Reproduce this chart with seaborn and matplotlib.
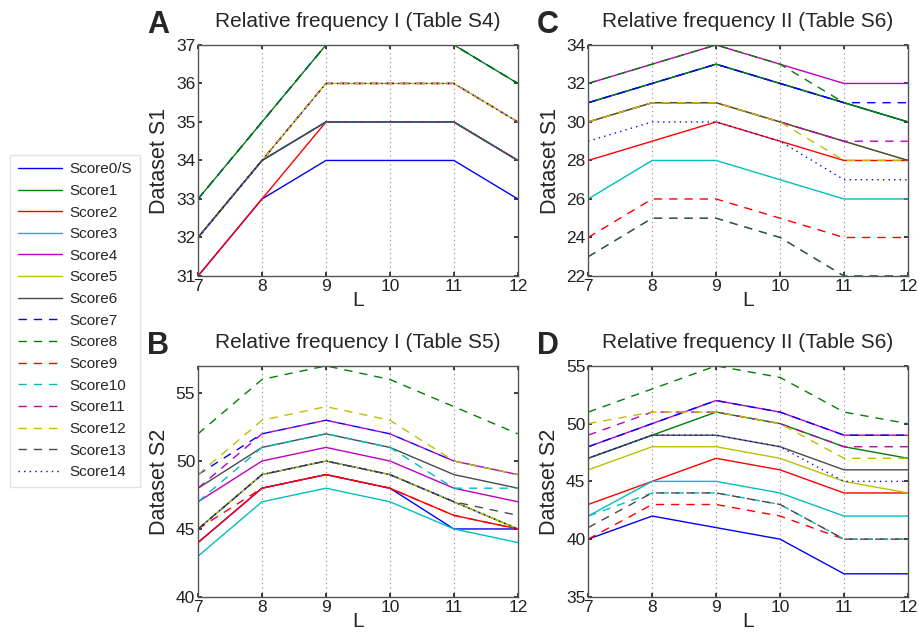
import pandas as pd
import seaborn as sns
import matplotlib
matplotlib.use("Agg")
import matplotlib.pyplot as plt

# x values (word length L)
L = [7, 8, 9, 10, 11, 12]

score_names = ["Score0/S", "Score1", "Score2", "Score3", "Score4", "Score5", "Score6",
               "Score7", "Score8", "Score9", "Score10", "Score11", "Score12", "Score13", "Score14"]

# Panel A: Relative frequency I (Table S4), Dataset S1
panel_a = [
    [31, 33, 34, 34, 34, 33],
    [33, 35, 37, 37, 37, 36],
    [31, 33, 35, 35, 35, 34],
    [32, 34, 35, 35, 35, 34],
    [32, 34, 35, 35, 35, 34],
    [32, 34, 36, 36, 36, 35],
    [32, 34, 35, 35, 35, 34],
    [33, 35, 37, 37, 37, 36],
    [33, 35, 37, 37, 37, 36],
    [32, 34, 36, 36, 36, 35],
    [32, 34, 35, 35, 35, 34],
    [32, 34, 36, 36, 36, 35],
    [32, 34, 36, 36, 36, 35],
    [32, 34, 35, 35, 35, 34],
    [32, 34, 36, 36, 36, 35],
]

# Panel C: Relative frequency II (Table S6), Dataset S1
panel_c = [
    [31, 32, 33, 32, 31, 30],
    [31, 32, 33, 32, 31, 30],
    [28, 29, 30, 29, 28, 28],
    [26, 28, 28, 27, 26, 26],
    [32, 33, 34, 33, 32, 32],
    [30, 31, 31, 30, 29, 28],
    [30, 31, 31, 30, 29, 28],
    [31, 32, 33, 32, 31, 31],
    [32, 33, 34, 33, 31, 30],
    [24, 26, 26, 25, 24, 24],
    [23, 25, 25, 24, 22, 22],
    [30, 31, 31, 30, 29, 29],
    [30, 31, 31, 30, 28, 28],
    [23, 25, 25, 24, 22, 22],
    [29, 30, 30, 29, 27, 27],
]

# Panel B: Relative frequency I (Table S5), Dataset S2
panel_b = [
    [44, 48, 49, 48, 45, 45],
    [45, 49, 50, 49, 47, 45],
    [44, 48, 49, 48, 46, 45],
    [43, 47, 48, 47, 45, 44],
    [47, 50, 51, 50, 48, 47],
    [45, 49, 50, 49, 47, 45],
    [48, 51, 52, 51, 49, 48],
    [49, 52, 53, 52, 50, 49],
    [52, 56, 57, 56, 54, 52],
    [45, 48, 49, 48, 46, 45],
    [47, 51, 52, 51, 48, 48],
    [48, 52, 53, 52, 50, 49],
    [49, 53, 54, 53, 50, 49],
    [45, 49, 50, 49, 47, 46],
    [45, 49, 50, 49, 47, 45],
]

# Panel D: Relative frequency II (Table S6), Dataset S2
panel_d = [
    [40, 42, 41, 40, 37, 37],
    [47, 49, 51, 50, 48, 47],
    [43, 45, 47, 46, 44, 44],
    [42, 45, 45, 44, 42, 42],
    [48, 50, 52, 51, 49, 49],
    [46, 48, 48, 47, 45, 44],
    [47, 49, 49, 48, 46, 46],
    [48, 50, 52, 51, 49, 49],
    [51, 53, 55, 54, 51, 50],
    [40, 43, 43, 42, 40, 40],
    [42, 44, 44, 43, 40, 40],
    [49, 51, 51, 50, 48, 48],
    [50, 51, 51, 50, 47, 47],
    [41, 44, 44, 43, 40, 40],
    [47, 49, 49, 48, 45, 45],
]

base_colors = ["#0000ff", "#008000", "#ff0000", "#00bfbf", "#bf00bf", "#bfbf00", "#4a4a4a"]
colors = base_colors + base_colors + ["#0000ff"]
styles = ["-"] * 7 + [(0, (6, 5))] * 7 + [(0, (1, 3))]

sns.set_theme(style="white")
plt.rcParams["font.family"] = ["Liberation Sans", "DejaVu Sans"]

fig = plt.figure(figsize=(9.19, 6.33), dpi=100)

panels = [
    (panel_a, "A", "Relative frequency I (Table S4)", "Dataset S1", [0.2155, 0.564, 0.348, 0.365], (31, 37), [31, 32, 33, 34, 35, 36, 37]),
    (panel_c, "C", "Relative frequency II (Table S6)", "Dataset S1", [0.640, 0.564, 0.348, 0.365], (22, 34), [22, 24, 26, 28, 30, 32, 34]),
    (panel_b, "B", "Relative frequency I (Table S5)", "Dataset S2", [0.2155, 0.057, 0.348, 0.365], (40, 57), [40, 45, 50, 55]),
    (panel_d, "D", "Relative frequency II (Table S6)", "Dataset S2", [0.640, 0.057, 0.348, 0.365], (35, 55), [35, 40, 45, 50, 55]),
]

axes = []
for data, letter, title, ylabel, rect, ylim, yticks in panels:
    ax = fig.add_axes(rect)
    for i, vals in enumerate(data):
        df = pd.DataFrame({"L": L, "value": vals})
        sns.lineplot(data=df, x="L", y="value", color=colors[i], linestyle=styles[i],
                     linewidth=1.0, ax=ax, label=score_names[i], legend=False)
    ax.set_xlim(7, 12)
    ax.set_ylim(*ylim)
    ax.set_xticks(L)
    ax.set_yticks(yticks)
    ax.tick_params(axis="both", labelsize=12.5, direction="in", length=3, colors="#222222",
                   top=True, right=True, bottom=True, left=True, pad=2)
    # dotted vertical grid at the inner x ticks
    for x in L[1:-1]:
        ax.axvline(x, color="#888888", linestyle=(0, (1, 3)), linewidth=0.8, zorder=0)
    for sp in ax.spines.values():
        sp.set_color("#555555")
        sp.set_linewidth(1.0)
    ax.set_title(title, fontsize=15, pad=13)
    ax.set_xlabel("L", fontsize=15, labelpad=-2)
    ax.set_ylabel(ylabel, fontsize=15.5, labelpad=4)
    ax.text(-0.16, 1.02, letter, transform=ax.transAxes, fontsize=22, fontweight="bold",
            ha="left", va="bottom")
    axes.append(ax)

handles, labels = axes[0].get_legend_handles_labels()
fig.legend(handles, labels, loc="upper left", bbox_to_anchor=(0.006, 0.763), fontsize=11,
           frameon=True, edgecolor="#dddddd", fancybox=False, labelspacing=0.5,
           handlelength=2.9, handletextpad=0.5, borderpad=0.5, borderaxespad=0.3)

fig.savefig("out.png", dpi=100)
